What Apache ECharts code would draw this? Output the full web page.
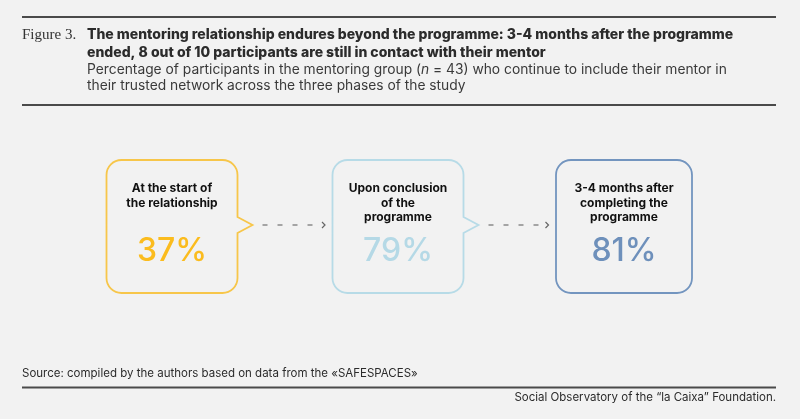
<!DOCTYPE html>
<html>
<head>
<meta charset="utf-8">
<script src="https://cdn.jsdelivr.net/npm/echarts@6/dist/echarts.min.js"></script>
<style>
  html, body { margin: 0; padding: 0; background: #f2f2f2; }
  #chart { width: 800px; height: 419px; }
</style>
</head>
<body>
<div id="chart"></div>
<script>
// ---- Data ----
const phases = [
  'At the start of\nthe relationship',
  'Upon conclusion\nof the\nprogramme',
  '3-4 months after\ncompleting the\nprogramme'
];
const percentages = [37, 79, 81];
const figureLabel = 'Figure 3.';
const titleLines = [
  'The mentoring relationship endures beyond the programme: 3-4 months after the programme',
  'ended, 8 out of 10 participants are still in contact with their mentor'
];
const sourceText = 'Source: compiled by the authors based on data from the «SAFESPACES»';
const creditText = 'Social Observatory of the “la Caixa” Foundation.';

// ---- Styles ----
const borderColors = ['#f7c64a', '#b7dbe7', '#7395bf'];
const valueColors = ['#fbbc1e', '#b5d9e6', '#6e90bb'];
const SANS = 'Inter, Roboto, "Noto Sans", sans-serif';

const chart = echarts.init(document.getElementById('chart'), null, { renderer: 'canvas' });

function boxPath(l, t, r, b, rad, pointer, pm) {
  let d = 'M' + (l + rad) + ',' + t + ' L' + (r - rad) + ',' + t +
    ' A' + rad + ',' + rad + ' 0 0 1 ' + r + ',' + (t + rad);
  if (pointer) {
    d += ' L' + r + ',' + (pm - 8) + ' L' + (r + 15) + ',' + pm + ' L' + r + ',' + (pm + 8);
  }
  d += ' L' + r + ',' + (b - rad) +
    ' A' + rad + ',' + rad + ' 0 0 1 ' + (r - rad) + ',' + b +
    ' L' + (l + rad) + ',' + b +
    ' A' + rad + ',' + rad + ' 0 0 1 ' + l + ',' + (b - rad) +
    ' L' + l + ',' + (t + rad) +
    ' A' + rad + ',' + rad + ' 0 0 1 ' + (l + rad) + ',' + t + ' Z';
  return d;
}

function boxWidth(i) { return i === phases.length - 1 ? 136 : 131; }

const option = {
  backgroundColor: '#f2f2f2',
  animation: false,
  grid: { left: 59, right: 63, top: 160, bottom: 126 },
  xAxis: { type: 'category', data: phases, show: false },
  yAxis: { type: 'value', min: 0, max: 100, show: false },
  series: [{
    type: 'custom',
    data: percentages.map((v, i) => [i, v]),
    renderItem: function (params, api) {
      const i = api.value(0);
      const v = api.value(1);
      const n = phases.length;
      const cx = api.coord([i, 0])[0];
      const top = api.coord([i, 100])[1];
      const bottom = api.coord([i, 0])[1];
      const w = boxWidth(i);
      const l = cx - w / 2, r = cx + w / 2;
      const pm = Math.round((top + bottom) / 2 - 1.5);
      const last = i === n - 1;
      const children = [{
        type: 'path',
        shape: { pathData: boxPath(l, top, r, bottom, 15, !last, pm) },
        style: { fill: 'none', stroke: borderColors[i], lineWidth: 1.8 }
      }, {
        type: 'text',
        style: {
          text: phases[i], x: cx, y: top + 21.5, align: 'center', verticalAlign: 'top',
          font: '700 12px ' + SANS, lineHeight: 14.5, fill: '#111'
        }
      }, {
        type: 'text',
        style: {
          text: v + '%', x: cx, y: top + 91.5, align: 'center', verticalAlign: 'middle',
          font: '500 32px ' + SANS, fill: valueColors[i]
        }
      }];
      if (!last) {
        const ncx = api.coord([i + 1, 0])[0];
        const nl = ncx - boxWidth(i + 1) / 2;
        children.push({
          type: 'line',
          shape: { x1: r + 25, y1: pm, x2: nl - 11, y2: pm },
          style: { stroke: '#8a8a8a', lineWidth: 1.5, lineDash: [5, 10] }
        }, {
          type: 'polyline',
          shape: { points: [[nl - 10.5, pm - 3], [nl - 7.5, pm], [nl - 10.5, pm + 3]] },
          style: { fill: 'none', stroke: '#666', lineWidth: 1.2 }
        });
      }
      return { type: 'group', children: children };
    }
  }],
  graphic: [
    { type: 'line', shape: { x1: 22, y1: 17, x2: 776, y2: 17 }, style: { stroke: '#4a4a4a', lineWidth: 2 } },
    { type: 'text', x: 22, y: 35.5, style: { text: figureLabel, font: '400 15px "Liberation Serif", serif', fill: '#333', verticalAlign: 'middle' } },
    { type: 'text', x: 87, y: 35, style: { text: titleLines[0], font: '800 14px ' + SANS, fill: '#2b2b2b', verticalAlign: 'middle' } },
    { type: 'text', x: 87, y: 52.5, style: { text: titleLines[1], font: '800 14px ' + SANS, fill: '#2b2b2b', verticalAlign: 'middle' } },
    { type: 'text', x: 87, y: 70, style: {
      text: '{r|Percentage of participants in the mentoring group (}{i|n}{r| = 43) who continue to include their mentor in}',
      verticalAlign: 'middle',
      rich: {
        r: { font: '400 13.8px ' + SANS, fill: '#3a3a3a' },
        i: { font: 'italic 400 13.8px ' + SANS, fill: '#3a3a3a' }
      }
    } },
    { type: 'text', x: 87, y: 86, style: { text: 'their trusted network across the three phases of the study', font: '400 13.8px ' + SANS, fill: '#3a3a3a', verticalAlign: 'middle' } },
    { type: 'line', shape: { x1: 22, y1: 105, x2: 776, y2: 105 }, style: { stroke: '#4a4a4a', lineWidth: 2 } },
    { type: 'text', x: 22, y: 373.5, style: { text: sourceText, font: '400 11.5px ' + SANS, fill: '#2b2b2b', verticalAlign: 'middle' } },
    { type: 'line', shape: { x1: 22, y1: 387.5, x2: 776, y2: 387.5 }, style: { stroke: '#4a4a4a', lineWidth: 2 } },
    { type: 'text', x: 776, y: 397.5, style: { text: creditText, font: '400 11.5px ' + SANS, fill: '#2b2b2b', align: 'right', verticalAlign: 'middle' } }
  ]
};
chart.setOption(option);
</script>
</body>
</html>
